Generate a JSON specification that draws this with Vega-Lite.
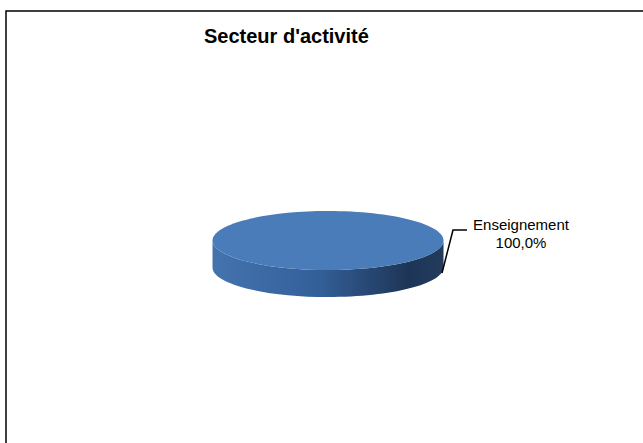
{
  "$schema": "https://vega.github.io/schema/vega-lite/v6.json",
  "width": 660,
  "height": 460,
  "autosize": {"type": "none"},
  "padding": {"left": 6, "top": 11, "right": -23, "bottom": -28},
  "background": "white",
  "view": {"stroke": "#000000", "strokeWidth": 1.5, "fill": "white"},
  "title": {
    "text": "Secteur d'activité",
    "anchor": "start",
    "frame": "group",
    "dx": 198,
    "offset": -52,
    "baseline": "alphabetic",
    "font": "Liberation Sans",
    "fontSize": 20,
    "fontWeight": "bold",
    "color": "#000000"
  },
  "data": {"values": [{"secteur": "Enseignement", "part": 1}]},
  "layer": [
    {
      "mark": {
        "type": "point",
        "filled": true,
        "opacity": 1,
        "size": 40000,
        "shape": "M -1.235 -0.005 L -1.235 0.265 C -1.235 0.4279 -0.7179 0.56 -0.08 0.56 C 0.5579 0.56 1.075 0.4279 1.075 0.265 L 1.075 -0.005 C 1.075 0.1579 0.5579 0.29 -0.08 0.29 C -0.7179 0.29 -1.235 0.1579 -1.235 -0.005 Z",
        "fill": {
          "gradient": "linear",
          "x1": 0, "y1": 0, "x2": 1, "y2": 0,
          "stops": [
            {"offset": 0, "color": "#4473ae"},
            {"offset": 0.45, "color": "#34609a"},
            {"offset": 0.85, "color": "#1d3556"},
            {"offset": 1, "color": "#233b5c"}
          ]
        }
      },
      "encoding": {"detail": {"field": "secteur", "type": "nominal"}}
    },
    {
      "mark": {
        "type": "point",
        "filled": true,
        "opacity": 1,
        "size": 40000,
        "shape": "M -1.235 -0.005 C -1.235 -0.1679 -0.7179 -0.3 -0.08 -0.3 C 0.5579 -0.3 1.075 -0.1679 1.075 -0.005 C 1.075 0.1579 0.5579 0.29 -0.08 0.29 C -0.7179 0.29 -1.235 0.1579 -1.235 -0.005 Z"
      },
      "encoding": {
        "color": {"field": "secteur", "type": "nominal", "scale": {"range": ["#4a7cb9"]}, "legend": null}
      }
    },
    {
      "mark": {
        "type": "point",
        "filled": false,
        "opacity": 1,
        "size": 40000,
        "shape": "M 1.06 0.32 L 1.17 -0.11 L 1.31 -0.11",
        "stroke": "#000000",
        "strokeWidth": 1.5
      },
      "encoding": {"detail": {"field": "secteur", "type": "nominal"}}
    },
    {
      "mark": {"type": "text", "dx": 185, "dy": -11, "align": "center", "baseline": "alphabetic", "font": "Liberation Sans", "fontSize": 15, "color": "#000000"},
      "encoding": {"text": {"field": "secteur", "type": "nominal"}}
    },
    {
      "mark": {"type": "text", "dx": 185, "dy": 7, "align": "center", "baseline": "alphabetic", "font": "Liberation Sans", "fontSize": 15, "color": "#000000"},
      "encoding": {"text": {"field": "part", "type": "quantitative", "format": ".1%"}}
    }
  ],
  "config": {
    "view": {"stroke": "#000000", "strokeWidth": 1.5},
    "locale": {
      "number": {"decimal": ",", "thousands": " ", "grouping": [3], "currency": ["", " €"], "percent": "%"}
    }
  }
}
